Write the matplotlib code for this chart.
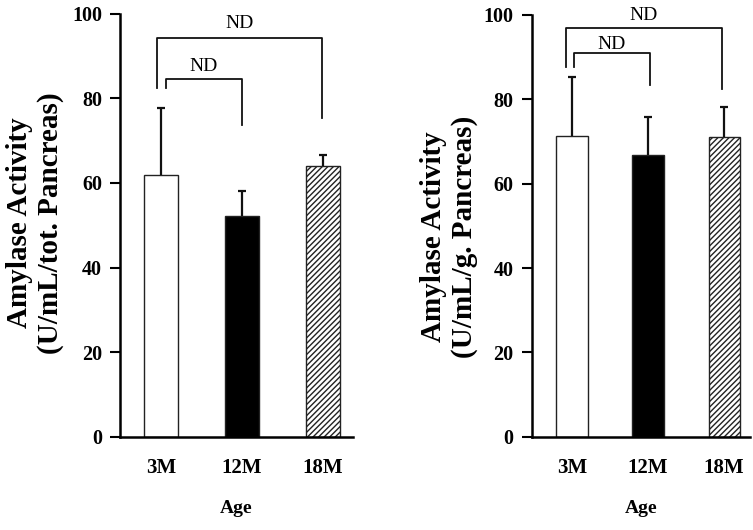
import numpy as np
import matplotlib
matplotlib.use('Agg')
import matplotlib.pyplot as plt

plt.rcParams['font.family'] = ['Liberation Serif', 'DejaVu Serif']
plt.rcParams['hatch.linewidth'] = 1.0

# Dados
grupos = ['3M', '12M', '18M']
media_total = [61.9, 52.3, 64.1]
erro_total = [15.9, 5.9, 2.5]
media_grama = [71.3, 66.8, 71.0]
erro_grama = [14.1, 8.9, 7.3]

# Colchetes de comparacao: (x1, x2, altura, perna esquerda, perna direita, texto y)
colchetes_total = [(-0.05, 1.99, 94.1, 82.4, 75.3, 97.7), (0.06, 1.0, 84.5, 82.4, 73.7, 87.4)]
colchetes_grama = [(-0.08, 1.97, 96.8, 87.7, 82.4, 99.9), (0.03, 1.02, 90.9, 87.7, 83.3, 93.0)]
texto_colchete = 'ND'

cores = ['white', 'black', 'white']
hachuras = [None, None, '//////']

fig = plt.figure(figsize=(7.53, 5.30), dpi=100)
ax1 = fig.add_axes([0.1594, 0.1755, 0.3094, 0.799])
ax2 = fig.add_axes([0.7061, 0.176, 0.2899, 0.7957])


def desenha_painel(ax, medias, erros, colchetes, rotulo, xlim, pos_rotulo):
    x = np.arange(len(grupos))
    barras = ax.bar(x, medias, width=0.41, color=cores, edgecolor='#222222', linewidth=1.0, zorder=2)
    for b, h in zip(barras, hachuras):
        if h:
            b.set_hatch(h)
    _, caps, _ = ax.errorbar(x, medias, yerr=[np.zeros(len(erros)), erros], fmt='none',
                             ecolor='#111111', elinewidth=1.6, capsize=3, capthick=1.6, zorder=3)
    # so o traco superior (erro apenas para cima)
    caps[0].set_visible(False)
    for x1, x2, topo, pe, pd_, ty in colchetes:
        ax.plot([x1, x1, x2, x2], [pe, topo, topo, pd_], color='#111111', lw=1.3, clip_on=False)
        ax.text((x1 + x2) / 2, ty, texto_colchete, ha='center', va='center', fontsize=14)
    ax.set_ylim(0, 100)
    ax.set_xlim(*xlim)
    ax.set_yticks([0, 20, 40, 60, 80, 100])
    ax.set_xticks(x)
    ax.set_xticklabels(grupos, fontsize=15, fontweight='bold')
    for t in ax.get_yticklabels():
        t.set_fontsize(14.5)
        t.set_fontweight('bold')
    ax.tick_params(axis='y', direction='out', length=7, width=1.5, pad=6)
    ax.tick_params(axis='x', length=0, pad=15)
    ax.spines['top'].set_visible(False)
    ax.spines['right'].set_visible(False)
    ax.spines['left'].set_linewidth(1.8)
    ax.spines['bottom'].set_linewidth(1.8)
    ax.text(pos_rotulo[0], pos_rotulo[1], rotulo, transform=ax.transAxes, rotation=90,
            ha='center', va='center', multialignment='center', fontsize=21,
            fontweight='bold', linespacing=1.15)
    ax.text(0.5, -0.17, 'Age', transform=ax.transAxes, ha='center', va='center',
            fontsize=14, fontweight='bold')


desenha_painel(ax1, media_total, erro_total, colchetes_total,
               'Amylase Activity\n(U/mL/tot. Pancreas)', (-0.506, 2.37), (-0.365, 0.505))
desenha_painel(ax2, media_grama, erro_grama, colchetes_grama,
               'Amylase Activity\n(U/mL/g. Pancreas)', (-0.53, 2.34), (-0.379, 0.475))

fig.savefig('out.png', dpi=100)
